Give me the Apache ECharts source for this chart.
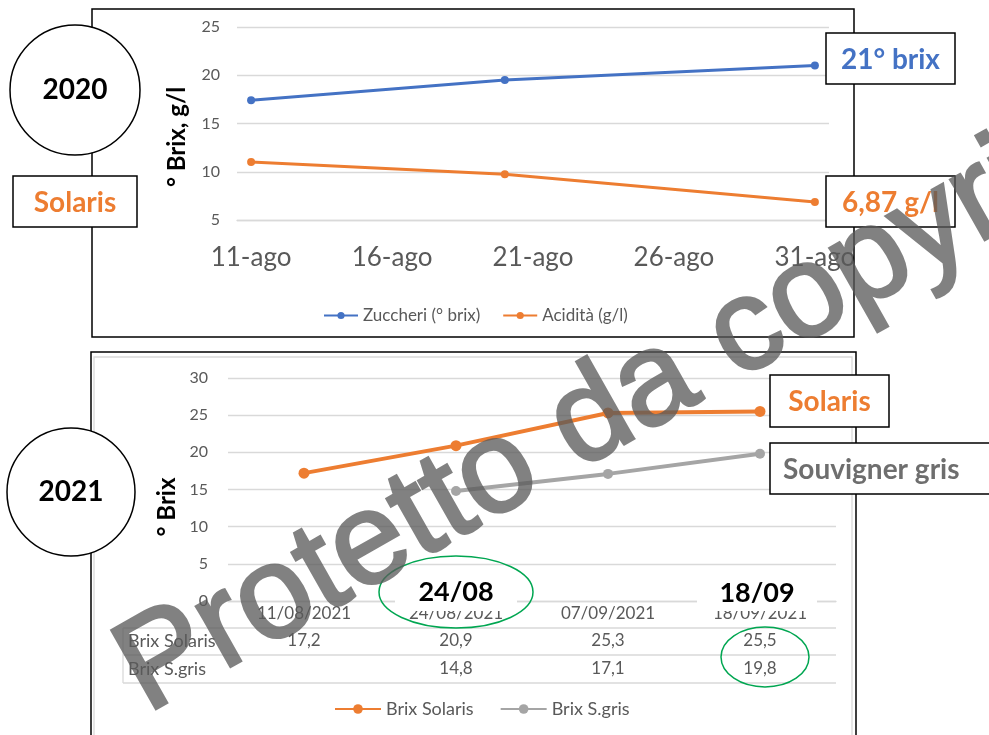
<!DOCTYPE html>
<html><head><meta charset="utf-8">
<script src="https://cdn.jsdelivr.net/npm/echarts@6/dist/echarts.min.js"></script>
<style>html,body{margin:0;padding:0;background:#fff}#c{width:989px;height:735px;background:#fff}</style>
</head><body><div id="c"></div>
<script>
// ---- 2020 data ----
const days2020 = ['11-ago','12-ago','13-ago','14-ago','15-ago','16-ago','17-ago','18-ago','19-ago','20-ago',
  '21-ago','22-ago','23-ago','24-ago','25-ago','26-ago','27-ago','28-ago','29-ago','30-ago','31-ago'];
const dates2020 = ['11-ago','20-ago','31-ago'];
const zuccheri = [17.4, 19.5, 21.0];
const acidita = [11.0, 9.75, 6.87];
// ---- 2021 data ----
const dates2021 = ['11/08/2021','24/08/2021','07/09/2021','18/09/2021'];
const brixSolaris = [17.2, 20.9, 25.3, 25.5];
const brixSgris = [null, 14.8, 17.1, 19.8];

const GRID = '#D9D9D9', LBL = '#595959', ORANGE = '#ED7D31', BLUE = '#4472C4', GREY = '#A5A5A5', GREEN = '#00A651';
const FONT = 'Lato, "Liberation Sans", sans-serif';
const fmt = v => v == null ? '' : String(v).replace('.', ',');

const chart = echarts.init(document.getElementById('c'), null, {renderer: 'canvas'});

function box(x, y, w, h, text, color, align) {
  return [
    {type: 'rect', z: 60, shape: {x, y, width: w, height: h}, style: {fill: '#fff', stroke: '#000', lineWidth: 1.5}},
    {type: 'text', z: 61, style: {text, x: align === 'left' ? x + 13 : x + w / 2, y: y + h / 2 + 1,
      align: align || 'center', verticalAlign: 'middle', fill: color, fontSize: 28, fontWeight: 'bold', fontFamily: FONT}}
  ];
}
function circle(cx, cy, r, text) {
  return [
    {type: 'circle', z: 60, shape: {cx, cy, r}, style: {fill: '#fff', stroke: '#000', lineWidth: 1.5}},
    {type: 'text', z: 61, style: {text, x: cx, y: cy, align: 'center', verticalAlign: 'middle', fill: '#000',
      fontSize: 28, fontWeight: 'bold', fontFamily: FONT}}
  ];
}
function hline(x1, x2, y) { return {type: 'line', z: 5, shape: {x1, y1: y, x2, y2: y}, style: {stroke: GRID, lineWidth: 1.3}}; }

const graphics = [].concat(
  // frames
  [{type: 'rect', z: 50, shape: {x: 92, y: 9, width: 762, height: 328}, style: {fill: null, stroke: '#000', lineWidth: 1.5}},
   {type: 'rect', z: 4, shape: {x: 94, y: 357, width: 758, height: 400}, style: {fill: null, stroke: GRID, lineWidth: 1.3}},
   {type: 'rect', z: 50, shape: {x: 91, y: 352, width: 765, height: 400}, style: {fill: null, stroke: '#000', lineWidth: 1.5}}],
  // y-axis titles
  [{type: 'text', z: 20, x: 177, y: 137, rotation: Math.PI / 2, style: {text: '° Brix, g/l', x: 0, y: 0, align: 'center',
     verticalAlign: 'middle', fill: '#000', fontSize: 24, fontWeight: 'bold', fontFamily: FONT}},
   {type: 'text', z: 20, x: 167, y: 507, rotation: Math.PI / 2, style: {text: '° Brix', x: 0, y: 0, align: 'center',
     verticalAlign: 'middle', fill: '#000', fontSize: 24, fontWeight: 'bold', fontFamily: FONT}}],
  // table structure
  [hline(123, 836, 628), hline(123, 836, 655), hline(123, 836, 683),
   {type: 'line', z: 5, shape: {x1: 123, y1: 628, x2: 123, y2: 683}, style: {stroke: GRID, lineWidth: 1.3}}],
  circle(75, 90, 65, '2020'),
  circle(71, 492, 64, '2021'),
  box(13, 176, 124, 51, 'Solaris', ORANGE),
  box(826, 33, 129, 51, '21° brix', BLUE),
  box(826, 176, 129, 51, '6,87 g/l', ORANGE),
  box(770, 375, 119, 52, 'Solaris', ORANGE),
  box(770, 443, 240, 51, 'Souvigner gris', '#6E6E6E', 'left'),
  // date highlights
  [{type: 'rect', z: 55, shape: {x: 395, y: 571, width: 122, height: 40}, style: {fill: '#fff'}},
   {type: 'rect', z: 55, shape: {x: 697, y: 571, width: 120, height: 40}, style: {fill: '#fff'}},
   {type: 'text', z: 57, style: {text: '24/08', x: 456, y: 592, align: 'center', verticalAlign: 'middle', fill: '#000',
     fontSize: 27, fontWeight: 'bold', fontFamily: FONT}},
   {type: 'text', z: 57, style: {text: '18/09', x: 757, y: 593, align: 'center', verticalAlign: 'middle', fill: '#000',
     fontSize: 27, fontWeight: 'bold', fontFamily: FONT}},
   {type: 'ellipse', z: 56, shape: {cx: 456, cy: 592, rx: 77, ry: 36}, style: {fill: null, stroke: GREEN, lineWidth: 1.5}},
   {type: 'ellipse', z: 56, shape: {cx: 765, cy: 657, rx: 44, ry: 30}, style: {fill: null, stroke: GREEN, lineWidth: 1.5}}],
  // watermark (own layer, made translucent below)
  [{type: 'text', zlevel: 1, z: 100, x: 655, y: 385, rotation: 29.5 * Math.PI / 180, style: {text: 'Protetto da copyright', x: 0, y: 0,
     align: 'center', verticalAlign: 'middle', fill: '#5a5a5a', stroke: '#5a5a5a', lineWidth: 3, lineJoin: 'round',
     fontSize: 131, fontFamily: '"Liberation Sans", Arial, sans-serif'}}]
);

const option = {
  backgroundColor: '#fff',
  animation: false,
  textStyle: {fontFamily: FONT},
  grid: [
    {left: 237, top: 27, width: 592, height: 193},
    {left: 228, top: 378, width: 608, height: 223}
  ],
  legend: [
    {data: ['Zuccheri (° brix)', 'Acidità (g/l)'], left: 318, top: 302, itemWidth: 34, itemHeight: 9, itemGap: 22,
     textStyle: {color: LBL, fontSize: 17, fontFamily: FONT}},
    {data: ['Brix Solaris', 'Brix S.gris'], left: 329, top: 695, itemWidth: 46, itemHeight: 12, itemGap: 26,
     textStyle: {color: LBL, fontSize: 18, fontFamily: FONT}}
  ],
  xAxis: [
    {gridIndex: 0, type: 'category', data: days2020, boundaryGap: true,
     axisLine: {lineStyle: {color: GRID, width: 1.3}},
     axisTick: {interval: 4, length: 8, lineStyle: {color: GRID, width: 1.3}},
     axisLabel: {interval: 4, color: LBL, fontSize: 26, margin: 25, fontFamily: FONT},
     splitLine: {show: false}},
    {gridIndex: 1, type: 'category', data: dates2021, boundaryGap: true,
     axisLine: {lineStyle: {color: GRID, width: 1.3}},
     axisTick: {interval: 0, length: 82, lineStyle: {color: GRID, width: 1.3}},
     axisLabel: {interval: 0, color: LBL, fontSize: 17, verticalAlign: 'middle', margin: 13, fontFamily: FONT}},
    {gridIndex: 1, type: 'category', data: dates2021, boundaryGap: true, position: 'bottom', offset: 40,
     axisLine: {show: false, onZero: false}, axisTick: {show: false},
     axisLabel: {interval: 0, color: LBL, fontSize: 17, verticalAlign: 'middle', margin: 0, fontFamily: FONT,
       formatter: (v, i) => fmt(brixSolaris[i])},
     name: 'Brix Solaris', nameLocation: 'start', nameGap: 100,
     nameTextStyle: {align: 'left', verticalAlign: 'middle', color: LBL, fontSize: 18, fontFamily: FONT}},
    {gridIndex: 1, type: 'category', data: dates2021, boundaryGap: true, position: 'bottom', offset: 68,
     axisLine: {show: false, onZero: false}, axisTick: {show: false},
     axisLabel: {interval: 0, color: LBL, fontSize: 17, verticalAlign: 'middle', margin: 0, fontFamily: FONT,
       formatter: (v, i) => fmt(brixSgris[i])},
     name: 'Brix S.gris', nameLocation: 'start', nameGap: 100,
     nameTextStyle: {align: 'left', verticalAlign: 'middle', color: LBL, fontSize: 18, fontFamily: FONT}}
  ],
  yAxis: [
    {gridIndex: 0, type: 'value', min: 5, max: 25, interval: 5,
     axisLine: {show: false}, axisTick: {show: false},
     axisLabel: {color: LBL, fontSize: 16, margin: 17, fontFamily: FONT},
     splitLine: {lineStyle: {color: GRID, width: 1.3}}},
    {gridIndex: 1, type: 'value', min: 0, max: 30, interval: 5,
     axisLine: {show: false}, axisTick: {show: false},
     axisLabel: {color: LBL, fontSize: 16, margin: 20, fontFamily: FONT},
     splitLine: {lineStyle: {color: GRID, width: 1.3}}}
  ],
  series: [
    {name: 'Zuccheri (° brix)', type: 'line', xAxisIndex: 0, yAxisIndex: 0, color: BLUE,
     data: dates2020.map((d, i) => [d, zuccheri[i]]), symbol: 'circle', symbolSize: 8, lineStyle: {width: 3}},
    {name: 'Acidità (g/l)', type: 'line', xAxisIndex: 0, yAxisIndex: 0, color: ORANGE,
     data: dates2020.map((d, i) => [d, acidita[i]]), symbol: 'circle', symbolSize: 8, lineStyle: {width: 3}},
    {name: 'Brix Solaris', type: 'line', xAxisIndex: 1, yAxisIndex: 1, color: ORANGE,
     data: brixSolaris, symbol: 'circle', symbolSize: 11, lineStyle: {width: 4}},
    {name: 'Brix S.gris', type: 'line', xAxisIndex: 1, yAxisIndex: 1, color: GREY,
     data: brixSgris, symbol: 'circle', symbolSize: 10, lineStyle: {width: 4}}
  ],
  graphic: {elements: graphics}
};
chart.setOption(option);
try {
  const layer = chart.getZr().painter.getLayer(1);
  if (layer && layer.dom) layer.dom.style.opacity = '0.76';
} catch (e) {}
</script></body></html>
